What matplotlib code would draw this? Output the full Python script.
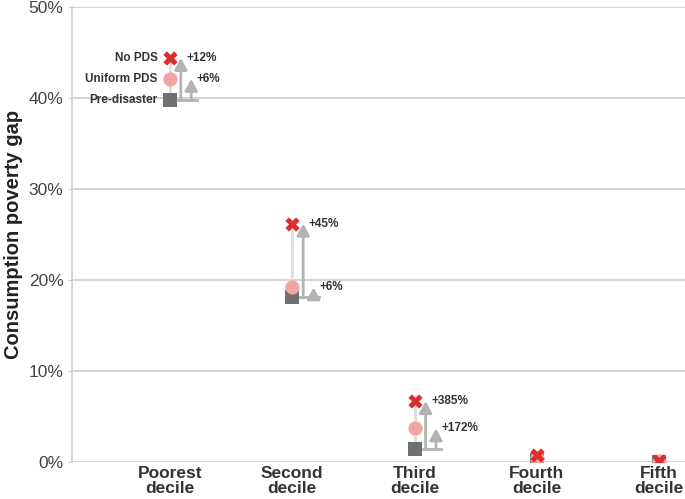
import numpy as np
import matplotlib.pyplot as plt

plt.rcParams['font.family'] = ['Liberation Sans', 'DejaVu Sans']

categories = ["Poorest\ndecile", "Second\ndecile", "Third\ndecile", "Fourth\ndecile", "Fifth\ndecile"]
pre_disaster = [39.8, 18.1, 1.4, 0.2, 0.05]
uniform_pds = [42.1, 19.2, 3.7, 0.4, 0.08]
no_pds = [44.4, 26.2, 6.7, 0.8, 0.1]
pct_no_pds = ["+12%", "+45%", "+385%", None, None]
pct_uniform = ["+6%", "+6%", "+172%", None, None]

fig = plt.figure(figsize=(6.85, 4.99), dpi=100)
ax = fig.add_axes([0.105, 0.074, 0.895, 0.912])

x = np.arange(len(categories))
arrow_col = '#b3b3b3'

for i in range(len(categories)):
    # connector
    ax.plot([x[i], x[i]], [pre_disaster[i], no_pds[i]], color='#dddddd', lw=2, zorder=2)
    if pct_no_pds[i] is not None:
        ax.plot([x[i], x[i] + 0.22], [pre_disaster[i], pre_disaster[i]], color=arrow_col, lw=2, zorder=2)
        for off, top, lab in [(0.09, no_pds[i], pct_no_pds[i]), (0.175, uniform_pds[i], pct_uniform[i])]:
            ax.annotate('', xy=(x[i] + off, top), xytext=(x[i] + off, pre_disaster[i]),
                        arrowprops=dict(arrowstyle='-|>,head_length=0.7,head_width=0.38',
                                        color=arrow_col, lw=2, shrinkA=0, shrinkB=0), zorder=2)
            ax.text(x[i] + off + 0.045, top, lab, fontsize=8.5, fontweight='bold',
                    color='#333333', va='center', ha='left')

ax.scatter(x, pre_disaster, marker='s', s=110, color='#707070', zorder=3, linewidths=0)
ax.scatter(x, uniform_pds, marker='o', s=105, color='#f4a3a3', zorder=4, linewidths=0)
ax.scatter(x, no_pds, marker='X', s=105, color='#e02b2f', zorder=5, linewidths=0)

# series labels next to the poorest decile
for val, lab in [(no_pds[0], "No PDS"), (uniform_pds[0], "Uniform PDS"), (pre_disaster[0], "Pre-disaster")]:
    ax.text(x[0] - 0.1, val, lab, fontsize=8.5, fontweight='bold', color='#333333',
            ha='right', va='center')

ax.set_xlim(-0.8, 4.21)
ax.set_ylim(0, 50)
ax.set_yticks([0, 10, 20, 30, 40, 50])
ax.set_yticklabels(['0%', '10%', '20%', '30%', '40%', '50%'], fontsize=12.5, color='#444444')
ax.set_xticks(x)
ax.set_xticklabels(categories, fontsize=12.5, fontweight='bold', color='#333333', linespacing=1.0)
ax.tick_params(axis='x', length=0, pad=3)
ax.tick_params(axis='y', length=3, color='#cccccc', pad=3)
ax.yaxis.grid(True, color='#cccccc', lw=1.2)
ax.set_axisbelow(True)
for s in ['top', 'right', 'bottom']:
    ax.spines[s].set_visible(False)
ax.spines['left'].set_color('#cccccc')
ax.spines['left'].set_linewidth(1.2)
ax.set_ylabel('Consumption poverty gap', fontsize=14.5, fontweight='bold', color='#222222', labelpad=4)

fig.savefig('out.png', dpi=100)
